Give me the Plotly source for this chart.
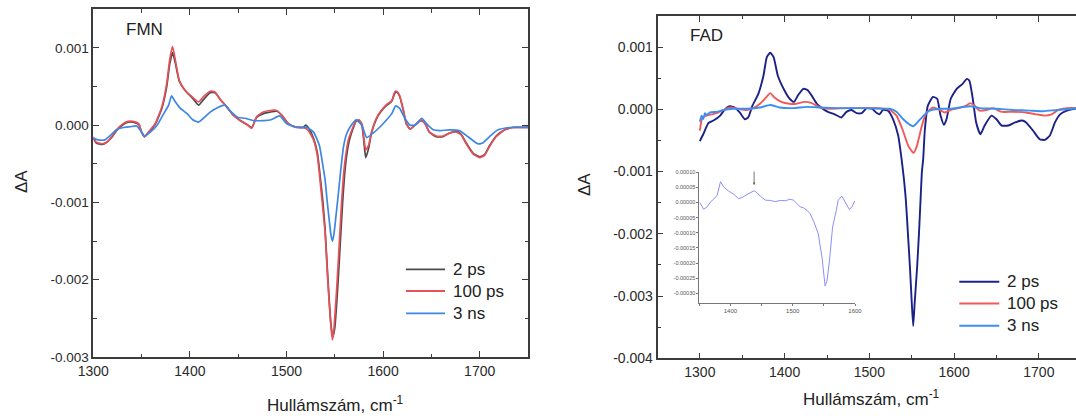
import plotly.graph_objects as go

W, H = 1076, 416

# ---------------- data (values in units of 1e-3 for main panels, 1e-5 for inset) -------------
series_names = ["2 ps", "100 ps", "3 ns"]

fmn_x_2ps = [1300,1303,1309,1314,1319,1324,1331,1336,1341,1347,1350,1353,1357,1364,1371,1376,1379,1382,1385,1389,1395,1402,1409,1414,1421,1426,1431,1438,1445,1452,1459,1464,1469,1476,1483,1490,1495,1502,1509,1517,1520,1523,1528,1532,1535,1537.5,1540,1542,1544,1546,1548,1550,1552,1554,1556,1558,1560,1562,1565,1569,1572,1575,1578,1580,1582,1585,1588,1593,1598,1603,1609,1612,1614,1617,1621,1624,1628,1633,1639,1643,1648,1655,1662,1669,1676,1681,1686,1693,1700,1705,1710,1717,1726,1734,1745,1750]
fmn_y_2ps = [-0.17,-0.23,-0.25,-0.22,-0.16,-0.07,0.01,0.04,0.04,0.01,-0.09,-0.15,-0.10,0.01,0.22,0.50,0.78,0.94,0.80,0.57,0.45,0.36,0.26,0.33,0.42,0.42,0.34,0.24,0.13,0.06,0.01,-0.03,0.10,0.15,0.17,0.18,0.13,0.02,-0.02,-0.03,0.0,-0.04,-0.17,-0.36,-0.68,-0.97,-1.35,-1.80,-2.22,-2.58,-2.74,-2.62,-2.30,-1.90,-1.45,-1.02,-0.66,-0.42,-0.20,-0.04,0.05,0.06,0.0,-0.20,-0.42,-0.30,-0.10,0.08,0.18,0.25,0.31,0.41,0.43,0.38,0.19,0.02,-0.05,0.0,0.06,0.03,-0.09,-0.15,-0.15,-0.10,-0.08,-0.12,-0.23,-0.36,-0.41,-0.38,-0.27,-0.14,-0.06,-0.03,-0.03,-0.03]

fmn_x_100ps = [1300,1303,1309,1314,1319,1324,1331,1336,1341,1347,1350,1353,1357,1364,1371,1376,1379,1382,1385,1389,1395,1402,1409,1414,1421,1426,1431,1438,1445,1452,1459,1464,1469,1476,1483,1490,1495,1502,1509,1517,1522,1528,1532,1535,1537,1540,1542,1544,1546,1547.5,1549,1551,1553,1555,1557,1559,1561,1564,1569,1572,1575,1578,1580,1582,1585,1588,1593,1598,1603,1609,1612,1614,1617,1621,1624,1628,1633,1639,1643,1648,1655,1662,1669,1676,1681,1686,1693,1700,1705,1710,1717,1726,1734,1745,1750]
fmn_y_100ps = [-0.15,-0.22,-0.24,-0.22,-0.15,-0.06,0.02,0.05,0.05,0.02,-0.09,-0.15,-0.09,0.02,0.24,0.54,0.84,1.02,0.84,0.58,0.45,0.37,0.30,0.37,0.44,0.43,0.34,0.24,0.13,0.06,0.01,-0.04,0.11,0.17,0.19,0.19,0.13,0.02,-0.02,-0.03,-0.06,-0.19,-0.40,-0.75,-1.00,-1.40,-1.85,-2.26,-2.60,-2.78,-2.65,-2.30,-1.90,-1.45,-1.00,-0.65,-0.42,-0.19,-0.02,0.06,0.07,0.02,-0.15,-0.32,-0.26,-0.09,0.09,0.19,0.26,0.32,0.43,0.44,0.39,0.19,0.02,-0.05,0.0,0.07,0.03,-0.09,-0.14,-0.14,-0.10,-0.09,-0.13,-0.24,-0.37,-0.42,-0.39,-0.28,-0.15,-0.06,-0.03,-0.03,-0.03]

fmn_x_3ns = [1300,1305,1312,1317,1324,1331,1338,1345,1350,1353,1359,1366,1372,1378,1381,1384,1390,1397,1403,1409,1414,1421,1429,1436,1443,1450,1457,1466,1476,1484,1493,1500,1510,1521,1528,1534,1538,1540,1542,1544,1546,1547.6,1549,1551,1553,1556,1559,1562,1566,1572,1578,1583,1590,1597,1603,1609,1613,1617,1622,1628,1633,1640,1645,1652,1659,1669,1679,1688,1698,1703,1710,1719,1731,1750]
fmn_y_3ns = [-0.17,-0.19,-0.19,-0.14,-0.06,-0.03,-0.02,-0.01,-0.09,-0.14,-0.09,0.0,0.13,0.26,0.38,0.32,0.22,0.15,0.07,0.04,0.09,0.17,0.23,0.26,0.17,0.10,0.09,0.06,0.06,0.07,0.12,0.02,-0.03,-0.03,-0.09,-0.26,-0.55,-0.71,-0.97,-1.20,-1.42,-1.50,-1.42,-1.20,-0.97,-0.60,-0.28,-0.12,-0.02,0.07,0.0,-0.16,-0.10,-0.02,0.06,0.15,0.25,0.22,0.10,0.0,0.0,0.09,0.02,-0.06,-0.07,-0.06,-0.07,-0.15,-0.24,-0.23,-0.15,-0.06,-0.03,-0.02]

fad_x_2ps = [1300,1304,1310,1316,1324,1329.5,1335,1341,1347,1353,1357,1362,1369,1375,1379,1383,1387,1392,1400,1406,1411,1416,1422,1427,1432,1438,1444,1451,1459,1467,1473,1479,1485,1491,1497,1503,1508,1512,1516,1522,1528,1534,1538,1541,1543,1545.5,1547.8,1550,1551.7,1553.5,1556.4,1558.5,1560.4,1562,1563.5,1565.5,1569,1575,1580,1584,1588,1591,1596,1603,1610,1615,1618,1622,1626,1631,1636,1644,1650,1656,1664,1672,1680,1685,1693,1701,1707,1713,1719,1725,1733,1742,1750]
fad_y_2ps = [-0.51,-0.40,-0.22,-0.18,-0.10,0.0,0.05,0.03,-0.05,-0.16,-0.13,0.06,0.25,0.54,0.84,0.91,0.84,0.54,0.30,0.17,0.12,0.23,0.33,0.31,0.22,0.09,0.02,-0.04,-0.08,-0.13,-0.04,-0.01,-0.06,-0.06,0.02,0.01,-0.05,-0.08,-0.01,-0.02,-0.16,-0.42,-0.80,-1.15,-1.45,-2.00,-2.52,-3.10,-3.48,-3.10,-2.52,-2.00,-1.45,-1.00,-0.80,-0.32,0.06,0.20,0.17,-0.10,-0.25,-0.16,0.17,0.33,0.41,0.49,0.46,0.17,-0.21,-0.40,-0.26,-0.10,-0.16,-0.26,-0.26,-0.21,-0.18,-0.21,-0.34,-0.48,-0.49,-0.42,-0.21,-0.08,-0.02,0.01,0.01]

fad_x_100ps = [1300,1303,1308,1314,1320,1328,1335,1345,1355,1363,1371,1378,1383,1388,1396,1406,1414,1424,1432,1442,1453,1473,1493,1512,1524,1532,1539,1546,1552,1556,1562,1567,1575,1583,1589,1596,1605,1613,1619,1624,1630,1638,1646,1656,1670,1685,1697,1707,1715,1723,1733,1750]
fad_y_100ps = [-0.34,-0.13,-0.10,-0.08,-0.06,-0.01,0.03,0.01,-0.01,0.02,0.09,0.19,0.26,0.19,0.12,0.09,0.09,0.12,0.10,0.03,0.01,0.02,0.02,0.02,-0.01,-0.10,-0.32,-0.59,-0.70,-0.59,-0.26,-0.06,0.03,-0.01,-0.05,-0.01,0.02,0.05,0.10,0.06,-0.02,-0.01,0.02,-0.04,-0.04,-0.05,-0.08,-0.10,-0.08,-0.01,0.02,0.02]

fad_x_3ns = [1300,1302,1304,1306,1308,1312,1320,1328,1339,1355,1371,1383,1394,1410,1426,1442,1465,1489,1512,1524,1532,1540,1548,1552,1556,1564,1571,1583,1595,1607,1619,1630,1650,1670,1689,1705,1721,1750]
fad_y_3ns = [-0.20,-0.10,-0.16,-0.06,-0.09,-0.05,-0.04,-0.01,0.01,0.01,0.03,0.07,0.03,0.02,0.04,0.03,0.02,0.02,0.01,0.01,-0.04,-0.16,-0.25,-0.27,-0.22,-0.10,-0.02,0.01,0.01,0.03,0.05,0.02,0.01,-0.01,-0.02,-0.03,-0.01,0.02]

inset_x = [1351,1357,1362.7,1368,1373,1378.7,1384,1389,1397,1405,1413,1419,1427,1435,1438,1443,1448,1456,1464,1472,1480,1488,1496,1501,1507,1512,1517,1523,1528,1534,1541,1547,1552,1555,1559,1564,1570,1573,1579,1584,1591,1595,1600]
inset_y = [0.0,-2.2,-1.4,0.2,1.1,2.4,6.9,5.2,3.8,2.8,1.3,1.7,2.7,3.6,3.9,3.2,2.1,0.8,0.7,0.3,0.7,0.6,1.1,0.8,-0.3,-1.4,-1.7,-2.6,-3.7,-6.4,-10.3,-18.1,-27.6,-25.9,-19.2,-8.1,-2.6,0.8,2.1,0.2,-2.3,-1.4,0.6]

main_y_ticks = [0.001, 0.0, -0.001, -0.002, -0.003, -0.004]
main_y_ticktext = ["0.001", "0.000", "-0.001", "-0.002", "-0.003", "-0.004"]
x_ticks = [1300, 1400, 1500, 1600, 1700]
inset_y_ticks = [0.0001, 0.00005, 0.0, -0.00005, -0.0001, -0.00015, -0.0002, -0.00025, -0.0003]
inset_y_ticktext = ["0.00010", "0.00005", "0.00000", "-0.00005", "-0.00010", "-0.00015", "-0.00020", "-0.00025", "-0.00030"]
inset_x_ticks = [1400, 1500, 1600]

fmn_colors = ["#4a4a4a", "#e8505a", "#3d86e3"]
fad_colors = ["#1c2188", "#f25a5a", "#3b8ff0"]
inset_color = "#8c8cff"


def px(x):
    return x / W


def py(y):
    return 1 - y / H


def scale(vals, f):
    return [v * f for v in vals]


FONT = "Arial, 'Liberation Sans', sans-serif"
AX = "#3c3c3c"

fig = go.Figure()

fmn_data = [(fmn_x_2ps, fmn_y_2ps), (fmn_x_100ps, fmn_y_100ps), (fmn_x_3ns, fmn_y_3ns)]
for (xs, ys), name, col in zip(fmn_data, series_names, fmn_colors):
    fig.add_trace(go.Scatter(x=xs, y=scale(ys, 1e-3), mode="lines", name=name, showlegend=False,
                             line=dict(color=col, width=1.7, shape="spline", smoothing=0.5),
                             xaxis="x", yaxis="y"))

fad_data = [(fad_x_2ps, fad_y_2ps), (fad_x_100ps, fad_y_100ps), (fad_x_3ns, fad_y_3ns)]
for (xs, ys), name, col in zip(fad_data, series_names, fad_colors):
    fig.add_trace(go.Scatter(x=xs, y=scale(ys, 1e-3), mode="lines", name=name, showlegend=False,
                             line=dict(color=col, width=1.9, shape="spline", smoothing=0.5),
                             xaxis="x2", yaxis="y2"))

fig.add_trace(go.Scatter(x=inset_x, y=scale(inset_y, 1e-5), mode="lines", showlegend=False,
                         line=dict(color=inset_color, width=1.0),
                         xaxis="x3", yaxis="y3"))


def main_xaxis(domain, rng, anchor, mirror):
    return dict(domain=domain, range=rng, anchor=anchor, showline=True, linecolor=AX, linewidth=1.6,
                mirror=mirror, ticks="inside", ticklen=6, tickwidth=1.4, tickcolor=AX,
                tickvals=x_ticks, showgrid=False, zeroline=False,
                minor=dict(dtick=50, tick0=1250, ticks="inside", ticklen=3.5, tickwidth=1.2, tickcolor=AX),
                tickfont=dict(family=FONT, size=14, color="#2a2a2a"), automargin=False)


def main_yaxis(domain, rng, anchor, mirror, size):
    return dict(domain=domain, range=rng, anchor=anchor, showline=True, linecolor=AX, linewidth=1.6,
                mirror=mirror, ticks="inside", ticklen=6, tickwidth=1.4, tickcolor=AX,
                tickvals=main_y_ticks, ticktext=main_y_ticktext, showgrid=False, zeroline=False,
                minor=dict(dtick=0.0005, tick0=0, ticks="inside", ticklen=3.5, tickwidth=1.2, tickcolor=AX),
                tickfont=dict(family=FONT, size=size, color="#2a2a2a"), automargin=False)


left_xdom = [px(93.3), px(528)]
left_ydom = [py(357), py(9.3)]
right_xdom = [px(657.5), 1.0]
right_ydom = [py(358.3), py(16)]
right_xmax = 1250 + (W - 657.5) / 0.8475

fig.update_layout(
    width=W, height=H, margin=dict(l=0, r=0, t=0, b=0),
    paper_bgcolor="white", plot_bgcolor="white",
    font=dict(family=FONT, color="#222"),
    showlegend=False,
    xaxis=main_xaxis(left_xdom, [1300, 1750], "y", "ticks"),
    yaxis=main_yaxis(left_ydom, [-0.003, 0.0015], "x", "ticks", 13.5),
    xaxis2=main_xaxis(right_xdom, [1250, right_xmax], "y2", "ticks"),
    yaxis2=main_yaxis(right_ydom, [-0.004, 0.0015], "x2", False, 14),
    xaxis3=dict(domain=[px(699.3), px(855)], range=[1350, 1600], anchor="y3", showline=True,
                linecolor="#777", linewidth=0.8, ticks="outside", ticklen=2, tickwidth=0.7, tickcolor="#777",
                tickvals=inset_x_ticks, showgrid=False, zeroline=False,
                minor=dict(dtick=50, tick0=1350, ticks="outside", ticklen=1.5, tickcolor="#777"),
                tickfont=dict(family=FONT, size=6, color="#555"), automargin=False),
    yaxis3=dict(domain=[py(303.3), py(172.0)], range=[-0.000333, 0.000101], anchor="x3", showline=True,
                linecolor="#777", linewidth=0.8, ticks="outside", ticklen=2, tickwidth=0.7, tickcolor="#777",
                tickvals=inset_y_ticks, ticktext=inset_y_ticktext, showgrid=False, zeroline=False,
                tickfont=dict(family=FONT, size=5.5, color="#555"), automargin=False),
)

ann_font = dict(family=FONT, size=17, color="#222")


def text_at(text, x, y, anchor="center", angle=0, size=17):
    fig.add_annotation(text=text, x=px(x), y=py(y), xref="paper", yref="paper", showarrow=False,
                       xanchor=anchor, yanchor="middle", textangle=angle,
                       font=dict(family=FONT, size=size, color="#222"))


text_at("FMN", 144, 30)
text_at("FAD", 706.7, 35)
text_at("ΔA", 21, 182, angle=-90)
text_at("ΔA", 584.5, 184.6, angle=-90)
text_at("Hullámszám, cm<sup>-1</sup>", 335, 404)
text_at("Hullámszám, cm<sup>-1</sup>", 871.7, 398)

# legend keys (decoration, drawn in paper coordinates)
legend_specs = [
    (fmn_colors, 406, 445, 451, [269.3, 291, 313.3], 1.8),
    (fad_colors, 959.3, 999.3, 1005, [281.7, 303.5, 325.7], 2.0),
]
for cols, lx0, lx1, tx, rows, lw in legend_specs:
    for name, col, ry in zip(series_names, cols, rows):
        fig.add_shape(type="line", xref="paper", yref="paper", x0=px(lx0), x1=px(lx1), y0=py(ry), y1=py(ry),
                      line=dict(color=col, width=lw))
        text_at(name, tx, ry, anchor="left")

# arrow in inset
fig.add_annotation(text="", x=1438, y=0.000058, xref="x3", yref="y3", showarrow=True, ax=0, ay=-15,
                   arrowhead=2, arrowsize=0.6, arrowwidth=0.8, arrowcolor="#555")

fig.write_html("out.html")
